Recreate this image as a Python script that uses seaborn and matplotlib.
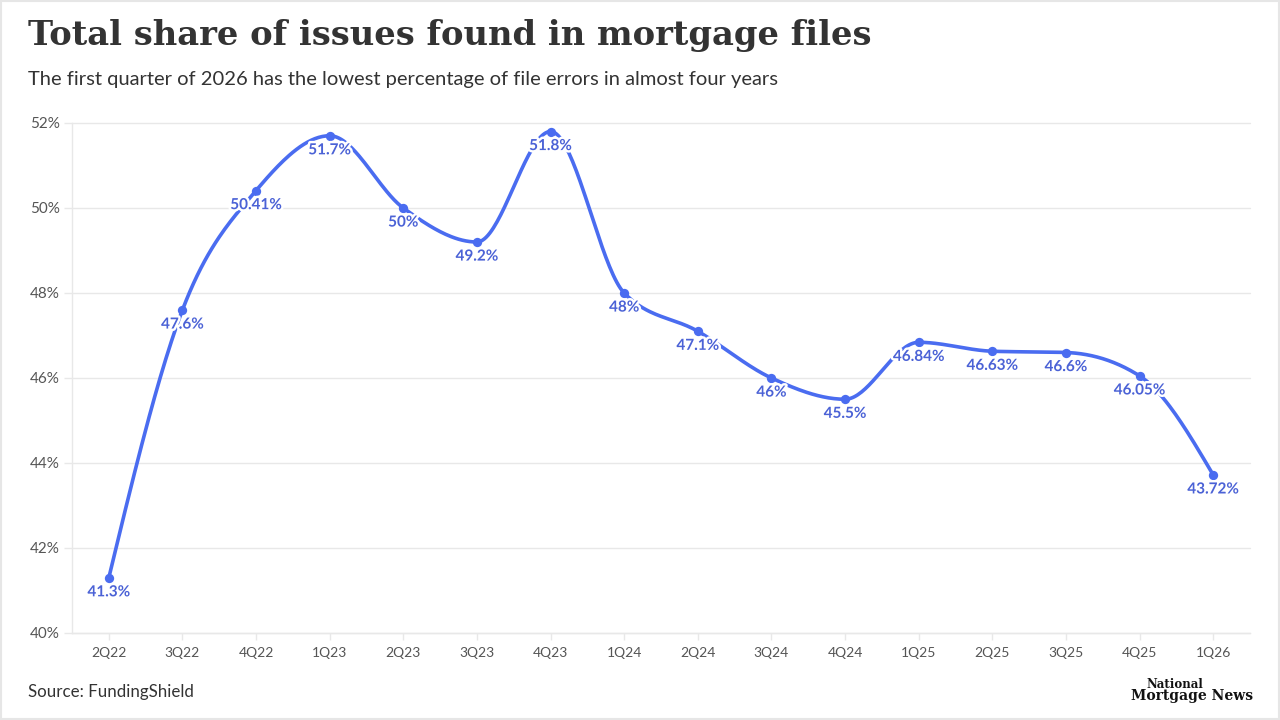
import numpy as np
import pandas as pd
import matplotlib
matplotlib.use("Agg")
import matplotlib.pyplot as plt
import matplotlib.patheffects as pe
import seaborn as sns

quarters = ["2Q22", "3Q22", "4Q22", "1Q23", "2Q23", "3Q23", "4Q23", "1Q24",
            "2Q24", "3Q24", "4Q24", "1Q25", "2Q25", "3Q25", "4Q25", "1Q26"]
share = [41.3, 47.6, 50.41, 51.7, 50, 49.2, 51.8, 48,
         47.1, 46, 45.5, 46.84, 46.63, 46.6, 46.05, 43.72]
labels = ["41.3%", "47.6%", "50.41%", "51.7%", "50%", "49.2%", "51.8%", "48%",
          "47.1%", "46%", "45.5%", "46.84%", "46.63%", "46.6%", "46.05%", "43.72%"]
y_ticks = [40, 42, 44, 46, 48, 50, 52]

LINE = "#4a6cf0"
LABEL = "#4b62d6"
TEXT = "#333333"
GRID = "#e8e8e8"


def monotone_x(x, y, n=40):
    """d3 curveMonotoneX style interpolation."""
    x = np.asarray(x, float)
    y = np.asarray(y, float)
    m = len(x)
    h = np.diff(x)
    s = np.diff(y) / h
    t = np.zeros(m)
    for i in range(1, m - 1):
        s0, s1 = s[i - 1], s[i]
        h0, h1 = h[i - 1], h[i]
        p = (s0 * h1 + s1 * h0) / (h0 + h1)
        t[i] = (np.sign(s0) + np.sign(s1)) * min(abs(s0), abs(s1), 0.5 * abs(p))
    t[0] = (3 * s[0] - t[1]) / 2
    t[-1] = (3 * s[-1] - t[-2]) / 2
    xs, ys = [], []
    for i in range(m - 1):
        u = np.linspace(0, 1, n, endpoint=(i == m - 2))
        dx = h[i]
        h00 = 2 * u**3 - 3 * u**2 + 1
        h10 = u**3 - 2 * u**2 + u
        h01 = -2 * u**3 + 3 * u**2
        h11 = u**3 - u**2
        xs.append(x[i] + u * dx)
        ys.append(h00 * y[i] + h10 * dx * t[i] + h01 * y[i + 1] + h11 * dx * t[i + 1])
    return np.concatenate(xs), np.concatenate(ys)


sns.set_theme(style="white")
plt.rcParams["font.family"] = ["Lato", "DejaVu Sans"]

fig = plt.figure(figsize=(12.8, 7.2), dpi=100)
fig.patch.set_facecolor("white")
ax = fig.add_axes([72 / 1280, 1 - 633 / 720, (1250 - 72) / 1280, (633 - 123) / 720])

pos = np.arange(len(quarters))
df = pd.DataFrame({"pos": pos, "share": share, "quarter": quarters})
cx, cy = monotone_x(pos, share)
curve = pd.DataFrame({"x": cx, "y": cy})

for yt in y_ticks:
    ax.axhline(yt, color=GRID, lw=1, zorder=0, clip_on=False)

sns.lineplot(data=curve, x="x", y="y", ax=ax, color=LINE, lw=2.6, zorder=3,
             sort=False, estimator=None)
sns.scatterplot(data=df, x="pos", y="share", ax=ax, color=LINE, s=45,
                edgecolor=LINE, linewidth=0, zorder=4)

for xp, yv, lab in zip(pos, share, labels):
    ax.annotate(lab, (xp, yv), xytext=(0, -10.5), textcoords="offset points",
                ha="center", va="center", fontsize=11, fontweight="bold",
                color=LABEL, zorder=5,
                path_effects=[pe.withStroke(linewidth=3.5, foreground="white")])

ax.set_xlim(-0.5, 15.5)
ax.set_ylim(40, 52)
ax.set_yticks(y_ticks)
ax.set_yticklabels([f"{v}%" for v in y_ticks], fontsize=11, color="#555555")
ax.set_xticks(pos)
ax.set_xticklabels(quarters, fontsize=10, color="#555555")
ax.tick_params(axis="y", length=6, color=GRID, width=1, pad=3, left=True)
ax.tick_params(axis="x", length=5, color=GRID, width=1, pad=5, bottom=True)
ax.set_xlabel("")
ax.set_ylabel("")
for side in ["top", "right"]:
    ax.spines[side].set_visible(False)
for side in ["left", "bottom"]:
    ax.spines[side].set_color(GRID)
    ax.spines[side].set_linewidth(1)

fig.text(28 / 1280, 1 - 36 / 720, "Total share of issues found in mortgage files",
         family=["DejaVu Serif"], fontweight="bold", fontsize=24.3, color=TEXT,
         ha="left", va="center")
fig.text(28 / 1280, 1 - 80 / 720,
         "The first quarter of 2026 has the lowest percentage of file errors in almost four years",
         fontsize=14.5, color=TEXT, ha="left", va="center")
fig.text(28 / 1280, 1 - 692 / 720, "Source: FundingShield", fontsize=12.2,
         color=TEXT, ha="left", va="center")
fig.text(1175 / 1280, 1 - 684 / 720, "National", family=["DejaVu Serif"],
         fontweight="bold", fontsize=8.5, color="#111111", ha="center", va="center")
fig.text(1253 / 1280, 1 - 696 / 720, "Mortgage News", family=["DejaVu Serif"],
         fontweight="bold", fontsize=10, color="#111111", ha="right", va="center")

fig.add_artist(plt.Rectangle((0.001, 0.001), 0.998, 0.998, transform=fig.transFigure,
                             fill=False, edgecolor="#e6e6e6", lw=1.5))

fig.savefig("out.png", dpi=100, facecolor="white")
